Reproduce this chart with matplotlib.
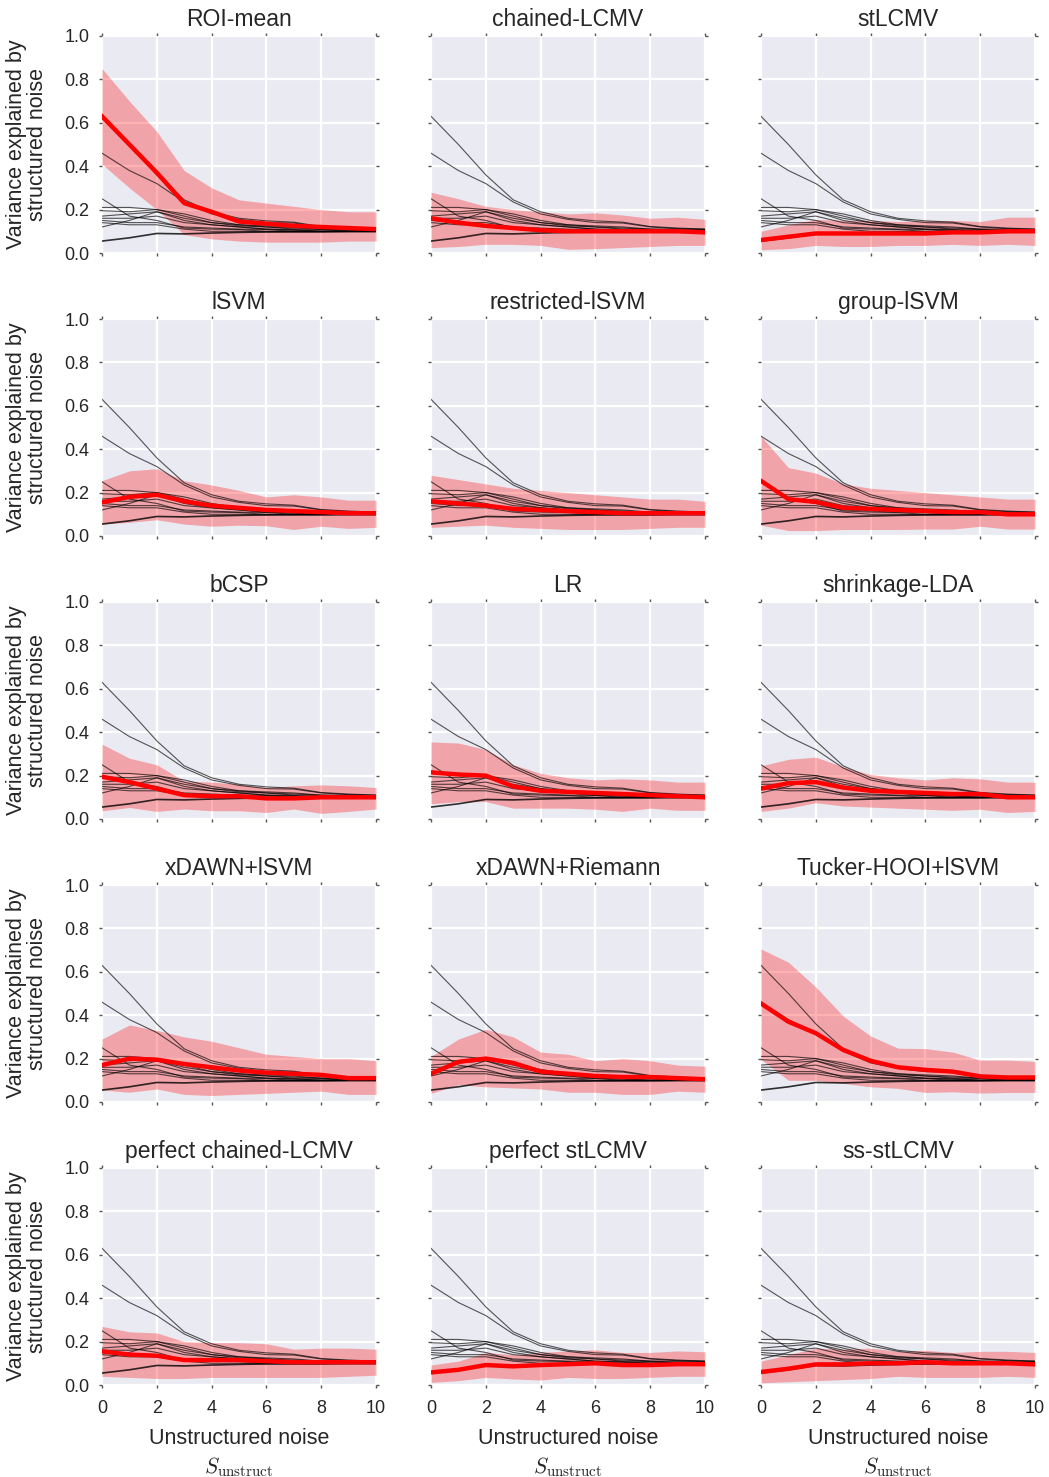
import numpy as np
import matplotlib
matplotlib.use("Agg")
import matplotlib.pyplot as plt

plt.rcParams['font.family'] = ['Liberation Sans', 'DejaVu Sans']
plt.rcParams['mathtext.fontset'] = 'cm'

x = [0, 1, 2, 3, 4, 5, 6, 7, 8, 9, 10]

# Per-subject curves (same in every panel)
subjects = [
    [0.63, 0.50, 0.36, 0.245, 0.19, 0.16, 0.148, 0.142, 0.122, 0.115, 0.11],
    [0.46, 0.38, 0.32, 0.235, 0.18, 0.155, 0.14, 0.138, 0.12, 0.112, 0.11],
    [0.25, 0.17, 0.15, 0.115, 0.11, 0.108, 0.10, 0.10, 0.10, 0.10, 0.10],
    [0.21, 0.21, 0.20, 0.18, 0.15, 0.13, 0.125, 0.12, 0.11, 0.11, 0.108],
    [0.195, 0.19, 0.20, 0.17, 0.14, 0.125, 0.12, 0.115, 0.11, 0.105, 0.105],
    [0.17, 0.18, 0.19, 0.16, 0.14, 0.13, 0.12, 0.11, 0.108, 0.10, 0.10],
    [0.16, 0.16, 0.17, 0.14, 0.13, 0.12, 0.11, 0.108, 0.10, 0.10, 0.10],
    [0.15, 0.14, 0.14, 0.12, 0.115, 0.11, 0.108, 0.10, 0.10, 0.10, 0.10],
    [0.12, 0.15, 0.19, 0.15, 0.13, 0.12, 0.11, 0.105, 0.10, 0.10, 0.10],
    [0.14, 0.13, 0.13, 0.11, 0.10, 0.10, 0.098, 0.097, 0.097, 0.097, 0.097],
    [0.055, 0.07, 0.09, 0.088, 0.092, 0.095, 0.097, 0.098, 0.098, 0.10, 0.10],
]

titles = ["ROI-mean", "chained-LCMV", "stLCMV",
          "lSVM", "restricted-lSVM", "group-lSVM",
          "bCSP", "LR", "shrinkage-LDA",
          "xDAWN+lSVM", "xDAWN+Riemann", "Tucker-HOOI+lSVM",
          "perfect chained-LCMV", "perfect stLCMV", "ss-stLCMV"]

means = [
    [0.63, 0.50, 0.37, 0.23, 0.19, 0.145, 0.135, 0.125, 0.12, 0.115, 0.11],
    [0.16, 0.14, 0.125, 0.115, 0.105, 0.10, 0.10, 0.10, 0.10, 0.10, 0.095],
    [0.06, 0.075, 0.09, 0.09, 0.09, 0.09, 0.09, 0.095, 0.095, 0.10, 0.10],
    [0.155, 0.18, 0.19, 0.16, 0.14, 0.13, 0.12, 0.115, 0.11, 0.105, 0.105],
    [0.16, 0.15, 0.14, 0.125, 0.12, 0.115, 0.11, 0.105, 0.105, 0.105, 0.105],
    [0.254, 0.17, 0.157, 0.13, 0.125, 0.12, 0.115, 0.11, 0.11, 0.10, 0.10],
    [0.195, 0.17, 0.14, 0.11, 0.105, 0.105, 0.095, 0.095, 0.10, 0.10, 0.10],
    [0.215, 0.205, 0.20, 0.15, 0.13, 0.125, 0.12, 0.115, 0.11, 0.105, 0.10],
    [0.14, 0.165, 0.17, 0.145, 0.13, 0.125, 0.12, 0.115, 0.115, 0.10, 0.10],
    [0.17, 0.20, 0.195, 0.175, 0.16, 0.145, 0.135, 0.13, 0.125, 0.11, 0.11],
    [0.13, 0.185, 0.20, 0.18, 0.14, 0.13, 0.12, 0.115, 0.115, 0.11, 0.105],
    [0.454, 0.37, 0.317, 0.24, 0.19, 0.16, 0.148, 0.14, 0.118, 0.113, 0.113],
    [0.155, 0.14, 0.135, 0.115, 0.115, 0.115, 0.11, 0.105, 0.105, 0.105, 0.105],
    [0.058, 0.07, 0.092, 0.086, 0.092, 0.096, 0.10, 0.092, 0.092, 0.096, 0.096],
    [0.06, 0.075, 0.095, 0.095, 0.10, 0.10, 0.105, 0.10, 0.10, 0.10, 0.095],
]

uppers = [
    [0.85, 0.70, 0.56, 0.38, 0.30, 0.245, 0.23, 0.215, 0.20, 0.19, 0.19],
    [0.28, 0.25, 0.215, 0.20, 0.19, 0.18, 0.185, 0.175, 0.16, 0.165, 0.155],
    [0.10, 0.13, 0.155, 0.15, 0.15, 0.145, 0.15, 0.15, 0.145, 0.165, 0.165],
    [0.255, 0.30, 0.31, 0.255, 0.235, 0.21, 0.18, 0.19, 0.18, 0.165, 0.165],
    [0.28, 0.26, 0.24, 0.22, 0.21, 0.20, 0.19, 0.18, 0.17, 0.17, 0.16],
    [0.46, 0.315, 0.29, 0.24, 0.22, 0.21, 0.20, 0.19, 0.18, 0.17, 0.17],
    [0.345, 0.28, 0.25, 0.175, 0.17, 0.16, 0.145, 0.153, 0.157, 0.153, 0.145],
    [0.355, 0.35, 0.32, 0.25, 0.21, 0.19, 0.18, 0.185, 0.18, 0.17, 0.17],
    [0.245, 0.275, 0.285, 0.24, 0.205, 0.19, 0.18, 0.19, 0.185, 0.17, 0.17],
    [0.29, 0.355, 0.33, 0.30, 0.28, 0.25, 0.22, 0.21, 0.20, 0.20, 0.19],
    [0.21, 0.29, 0.335, 0.30, 0.23, 0.22, 0.19, 0.20, 0.19, 0.17, 0.165],
    [0.705, 0.644, 0.53, 0.396, 0.304, 0.248, 0.246, 0.23, 0.193, 0.193, 0.187],
    [0.27, 0.245, 0.24, 0.20, 0.195, 0.195, 0.19, 0.165, 0.17, 0.17, 0.165],
    [0.092, 0.11, 0.15, 0.14, 0.15, 0.157, 0.162, 0.15, 0.15, 0.157, 0.153],
    [0.11, 0.14, 0.17, 0.165, 0.17, 0.155, 0.16, 0.15, 0.155, 0.155, 0.15],
]

lowers = [
    [0.41, 0.30, 0.20, 0.085, 0.065, 0.055, 0.05, 0.05, 0.05, 0.055, 0.055],
    [0.025, 0.03, 0.04, 0.04, 0.035, 0.017, 0.02, 0.025, 0.03, 0.035, 0.035],
    [0.015, 0.02, 0.035, 0.03, 0.03, 0.035, 0.035, 0.04, 0.035, 0.04, 0.035],
    [0.055, 0.063, 0.075, 0.055, 0.045, 0.05, 0.047, 0.03, 0.045, 0.035, 0.04],
    [0.04, 0.045, 0.05, 0.04, 0.035, 0.03, 0.03, 0.03, 0.035, 0.04, 0.04],
    [0.05, 0.025, 0.025, 0.03, 0.03, 0.03, 0.032, 0.032, 0.045, 0.032, 0.032],
    [0.038, 0.053, 0.035, 0.046, 0.038, 0.038, 0.03, 0.046, 0.026, 0.035, 0.046],
    [0.07, 0.08, 0.08, 0.05, 0.05, 0.05, 0.045, 0.035, 0.05, 0.04, 0.04],
    [0.035, 0.05, 0.075, 0.06, 0.055, 0.05, 0.045, 0.04, 0.045, 0.03, 0.035],
    [0.055, 0.045, 0.06, 0.035, 0.03, 0.035, 0.04, 0.045, 0.05, 0.035, 0.035],
    [0.04, 0.08, 0.07, 0.065, 0.06, 0.045, 0.045, 0.035, 0.035, 0.05, 0.045],
    [0.197, 0.10, 0.10, 0.086, 0.07, 0.063, 0.044, 0.047, 0.041, 0.044, 0.044],
    [0.04, 0.035, 0.03, 0.03, 0.035, 0.035, 0.035, 0.035, 0.035, 0.04, 0.045],
    [0.012, 0.02, 0.035, 0.028, 0.023, 0.035, 0.03, 0.03, 0.035, 0.04, 0.04],
    [0.01, 0.015, 0.02, 0.025, 0.03, 0.04, 0.035, 0.035, 0.035, 0.04, 0.035],
]

xticks = [0, 2, 4, 6, 8, 10]
yticks = [0.0, 0.2, 0.4, 0.6, 0.8, 1.0]

W, H = 1049, 1477
fig = plt.figure(figsize=(W / 100, H / 100), dpi=100)
text_col = '#262626'
lefts = [102, 431, 761]
tops = [36, 319, 602, 885, 1168]
aw, ah = 274, 217

for i, title in enumerate(titles):
    r, c = divmod(i, 3)
    ax = fig.add_axes([lefts[c] / W, 1 - (tops[r] + ah) / H, aw / W, ah / H])
    ax.set_facecolor('#EAEAF2')
    for s in ax.spines.values():
        s.set_visible(False)
    ax.grid(True, color='white', lw=1.6)
    ax.set_axisbelow(True)
    ax.fill_between(x, lowers[i], uppers[i], color='red', alpha=0.3, lw=0, zorder=2)
    for j, sub in enumerate(subjects):
        if j == len(subjects) - 1:
            ax.plot(x, sub, color='black', lw=1.2, alpha=0.8, zorder=3)
        else:
            ax.plot(x, sub, color='black', lw=0.8, alpha=0.65, zorder=3)
    ax.plot(x, means[i], color='red', lw=3.2, zorder=4)
    ax.set_xlim(0, 10)
    ax.set_ylim(0, 1)
    ax.set_xticks(xticks)
    ax.set_yticks(yticks)
    ax.tick_params(axis='both', which='both', direction='out', length=2, width=1,
                   color='#555555', top=True, right=True, labelsize=13,
                   labelcolor=text_col)
    ax.tick_params(axis='x', pad=9)
    ax.tick_params(axis='y', pad=7)
    ax.set_title(title, fontsize=16.5, color=text_col, pad=7)
    if c == 0:
        ax.set_yticklabels([f"{v:.1f}" for v in yticks])
        ax.set_ylabel("Variance explained by\nstructured noise", fontsize=15.5,
                      color=text_col, linespacing=1.0, labelpad=12)
    else:
        ax.set_yticklabels([])
    if r == 4:
        ax.set_xticklabels([str(v) for v in xticks])
        ax.set_xlabel("Unstructured noise\n$S_{\\mathrm{unstruct}}$", fontsize=15.5,
                      color=text_col, linespacing=1.35, labelpad=8)
    else:
        ax.set_xticklabels([])

fig.savefig("out.png", dpi=100)
